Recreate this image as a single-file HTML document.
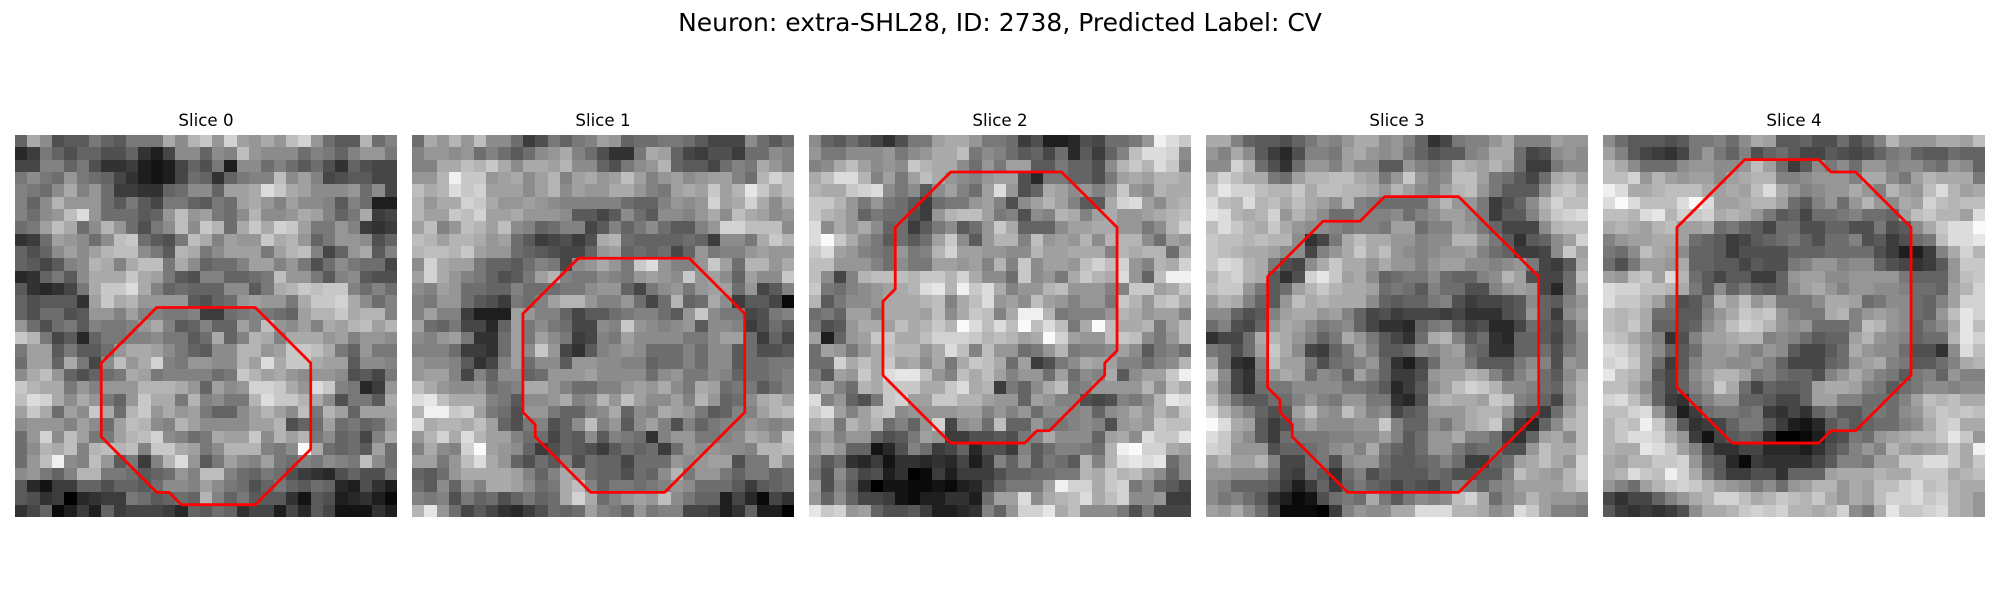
<!DOCTYPE html>
<html lang="en">
<head>
<meta charset="utf-8">
<title>Neuron slices</title>
<style>
html,body{margin:0;padding:0;background:#fff;}
svg{display:block;}
text{font-family:"DejaVu Sans",sans-serif;fill:#000;}
</style>
</head>
<body>
<svg id="figure" xmlns="http://www.w3.org/2000/svg" width="2000" height="600" viewBox="0 0 2000 600">
<rect x="0" y="0" width="2000" height="600" fill="#ffffff"/>
<text x="1000" y="31" font-size="25" text-anchor="middle">Neuron: extra-SHL28, ID: 2738, Predicted Label: CV</text>
<g id="panel-0"><text x="206" y="126" font-size="16.67" text-anchor="middle">Slice 0</text></g>
<g id="panel-1"><text x="603" y="126" font-size="16.67" text-anchor="middle">Slice 1</text></g>
<g id="panel-2"><text x="1000" y="126" font-size="16.67" text-anchor="middle">Slice 2</text></g>
<g id="panel-3"><text x="1397" y="126" font-size="16.67" text-anchor="middle">Slice 3</text></g>
<g id="panel-4"><text x="1794" y="126" font-size="16.67" text-anchor="middle">Slice 4</text></g>
</svg>
<script>
const slice0Values = [
[10,17,14,8,9,9,12,10,9,12,12,12,17,14,18,20,15,21,16,15,17,15,19,21,15,11,9,9,18,11,13],
[4,6,12,10,8,10,10,8,8,10,5,3,7,14,14,10,14,13,19,15,14,14,14,11,13,12,10,13,15,15,12],
[7,7,13,13,10,12,8,5,5,6,3,2,3,7,10,8,12,3,14,14,11,13,11,9,11,8,5,10,8,7,7],
[12,14,12,11,15,12,11,10,7,5,3,2,3,7,11,10,5,10,12,13,13,19,14,16,13,7,8,9,9,7,7],
[13,12,11,14,17,13,15,11,6,6,5,5,10,11,14,14,10,16,16,17,22,20,17,16,14,14,14,15,11,14,7],
[13,10,14,18,15,15,15,11,9,12,9,7,12,12,10,9,12,11,16,17,15,13,16,14,14,13,9,13,11,3,3],
[13,11,14,15,19,22,15,11,11,11,9,10,15,19,15,16,12,11,14,18,14,14,15,17,16,13,10,12,17,6,7],
[11,12,16,19,17,11,14,18,15,11,8,12,14,19,14,20,18,11,17,20,17,21,20,16,12,12,15,13,6,5,6],
[5,6,11,16,15,14,11,14,19,20,11,9,8,12,19,17,13,16,15,15,20,17,18,15,10,12,15,15,14,8,10],
[10,8,10,14,16,14,16,18,19,19,14,12,9,18,17,12,14,16,16,16,12,16,18,19,13,7,10,15,17,9,13],
[10,9,7,9,13,14,18,17,13,17,19,19,12,17,14,10,11,11,13,16,16,13,15,12,8,11,14,12,11,11,7],
[4,5,10,12,9,14,17,17,17,20,17,16,12,9,8,13,13,10,10,11,12,19,15,15,12,9,13,14,9,8,8],
[9,5,4,5,7,12,17,20,20,22,17,13,10,11,10,10,10,14,14,9,12,17,18,20,19,20,20,13,11,13,11],
[10,8,9,9,9,5,16,20,17,18,15,15,15,15,9,8,10,11,15,16,15,15,12,17,20,20,21,17,14,11,13],
[10,8,11,11,8,9,15,15,13,16,13,13,12,12,13,6,6,11,12,13,12,11,10,16,18,18,20,17,18,18,13],
[15,11,8,11,12,9,13,12,12,13,15,17,13,9,10,13,10,10,16,13,19,15,14,16,13,17,16,18,19,16,18],
[20,18,12,7,9,4,10,12,12,13,13,14,12,12,9,11,17,10,13,18,17,13,17,17,17,15,16,13,15,15,14],
[12,16,16,9,12,9,9,11,15,17,17,16,14,12,10,9,14,14,18,18,15,16,20,20,19,17,12,10,15,12,12],
[11,16,16,10,17,12,7,14,19,15,17,21,13,12,15,15,14,14,18,16,22,17,20,20,17,16,16,9,14,14,13],
[14,17,19,15,10,8,10,11,12,17,16,12,13,13,13,13,11,12,20,18,16,17,15,14,15,15,14,8,9,7,12],
[20,18,17,17,12,15,13,15,15,15,18,18,18,17,15,10,16,14,15,21,21,20,17,15,22,20,13,12,4,6,15],
[19,22,21,17,14,17,15,12,10,15,20,17,17,12,18,13,14,12,12,18,22,20,20,18,17,14,8,12,12,9,17],
[16,20,17,11,16,14,20,17,11,18,20,15,17,15,16,12,10,10,14,16,18,16,14,19,12,18,16,10,16,16,16],
[14,15,15,15,13,16,14,11,16,19,18,14,13,18,16,14,14,14,14,16,16,18,8,10,11,16,11,12,10,11,15],
[11,15,21,14,19,16,12,12,16,18,19,21,14,13,11,12,17,16,16,20,14,18,16,18,12,14,10,11,7,13,17],
[11,14,18,17,19,13,18,19,18,19,13,20,20,17,16,12,14,18,18,18,13,12,14,25,17,11,10,11,9,16,11],
[11,15,19,24,14,13,19,15,9,12,6,13,18,22,15,9,12,16,14,13,16,12,11,13,12,14,13,12,19,14,11],
[14,15,12,10,13,18,18,12,12,11,9,10,11,15,13,19,19,13,11,10,12,11,8,6,5,4,8,10,8,8,12],
[9,4,2,6,6,10,10,8,10,10,9,11,14,14,13,16,14,12,11,8,10,12,10,9,11,10,4,3,8,5,3],
[9,8,5,6,0,4,5,6,6,12,11,9,10,11,10,18,13,10,12,9,9,9,5,2,9,8,3,4,5,3,1],
[5,7,10,1,3,6,3,10,6,7,7,7,6,4,10,9,11,10,5,7,7,3,7,4,9,7,2,2,2,5,3]
];
const slice1Values = [
[11,17,15,18,15,19,14,14,11,6,8,12,10,12,13,16,15,10,11,11,12,12,11,9,7,7,7,14,11,9,11],
[13,15,15,14,15,11,13,11,9,11,14,15,17,13,11,8,5,5,12,17,16,10,7,6,8,8,6,11,11,14,13],
[13,13,17,17,19,18,20,17,14,17,17,16,18,14,14,10,8,12,14,15,18,10,9,9,7,11,13,12,17,15,13],
[15,15,18,24,20,20,15,16,17,14,16,18,13,16,17,15,16,19,16,13,15,16,14,15,16,16,13,11,18,21,19],
[19,17,18,22,20,21,16,16,16,14,16,18,14,16,15,15,17,17,15,13,12,16,17,16,20,16,18,23,20,17,19],
[18,15,17,17,21,20,17,15,15,16,15,14,13,13,13,13,13,11,10,10,13,15,14,15,21,16,17,21,17,14,17],
[18,16,16,20,19,21,16,16,17,15,15,15,14,9,9,7,9,14,11,9,14,14,13,15,17,14,19,17,16,14,15],
[16,19,13,15,19,18,16,19,14,13,10,11,13,13,7,9,13,10,12,14,11,9,9,13,15,21,21,19,19,19,14],
[19,18,16,18,18,17,15,16,11,9,6,7,8,6,8,17,18,11,10,10,10,10,11,10,6,14,14,12,17,20,18],
[18,19,19,18,20,16,15,15,11,10,9,8,7,7,10,15,16,10,11,10,11,7,10,15,12,13,13,15,16,15,15],
[14,21,17,16,16,12,10,10,9,11,13,12,7,14,15,17,15,12,20,22,15,13,13,15,20,16,11,18,18,15,17],
[16,21,17,15,13,12,10,8,9,12,16,18,13,12,12,14,13,12,15,16,15,14,20,15,16,14,10,16,14,14,20],
[14,13,16,15,11,11,10,10,13,11,11,11,12,12,14,15,15,10,7,12,14,15,12,15,16,16,11,15,7,9,13],
[13,12,15,15,11,9,8,6,12,11,13,16,18,18,15,13,13,15,11,7,11,18,10,11,17,14,6,9,9,7,1],
[13,16,13,13,6,3,3,3,16,15,13,13,10,7,9,9,11,12,13,13,11,9,15,20,14,12,12,7,8,12,13],
[16,11,10,12,7,7,4,10,16,12,14,12,11,7,7,14,13,20,15,14,13,14,15,9,14,14,13,6,8,11,9],
[14,13,15,16,12,5,5,11,16,12,16,14,12,6,7,13,12,16,14,14,14,14,12,12,14,16,16,11,6,10,7],
[13,13,13,11,6,6,5,11,16,14,20,15,7,5,9,13,14,15,14,11,11,11,13,11,14,14,9,11,8,8,9],
[15,14,14,13,9,5,7,13,16,11,14,14,9,15,15,14,14,13,13,10,11,11,13,11,14,14,9,11,11,12,12],
[15,16,16,13,7,13,10,14,14,10,11,15,15,15,16,14,14,14,14,11,14,15,12,12,14,13,10,11,11,12,13],
[19,17,15,14,14,15,11,12,13,17,17,15,13,11,11,13,13,15,16,15,17,14,12,17,16,11,12,12,9,11,13],
[22,23,19,17,17,17,13,12,9,14,14,15,17,13,14,18,15,19,16,14,14,16,13,18,15,10,11,14,17,18,16],
[18,24,24,20,21,16,12,11,8,15,15,12,10,10,13,14,17,10,14,13,17,16,15,12,9,10,13,13,16,18,19],
[22,17,18,18,17,19,16,10,8,12,13,8,10,14,19,13,15,9,14,16,13,8,13,10,12,13,13,15,14,13,14],
[15,18,21,17,22,18,16,16,13,11,11,7,10,9,14,9,13,12,11,5,13,15,15,12,12,13,14,17,16,14,20],
[13,17,14,13,21,25,16,15,14,10,6,8,10,9,8,6,9,11,10,11,6,11,15,14,15,14,14,13,18,18,19],
[16,16,12,15,19,22,17,15,10,8,11,9,13,8,11,10,10,7,11,11,11,15,14,15,16,16,8,12,12,18,14],
[10,9,11,15,17,17,17,17,16,13,10,13,17,15,11,10,10,8,11,10,14,18,12,15,15,12,10,12,12,10,11],
[11,9,14,10,15,13,17,17,16,14,11,12,17,19,13,10,12,12,11,12,13,15,14,11,11,11,9,6,9,10,11],
[13,12,13,8,12,10,11,8,10,12,10,11,17,21,17,11,13,15,16,15,19,14,12,10,10,3,7,4,1,7,5],
[18,23,15,11,7,9,7,5,4,6,8,11,10,11,16,13,12,10,15,12,13,13,7,7,6,3,5,10,3,3,0]
];
const slice2Values = [
[14,10,9,11,9,7,5,8,12,12,16,17,17,15,12,12,11,6,8,3,3,4,8,7,11,11,12,15,24,22,20],
[15,12,12,14,14,14,15,12,14,15,17,17,19,12,14,13,11,9,10,7,11,4,9,6,10,13,19,22,22,21,14],
[13,14,17,19,16,14,15,14,20,18,17,17,14,11,15,12,16,16,9,9,12,10,10,8,14,18,20,18,22,20,13],
[17,19,22,22,18,13,16,12,16,19,17,15,14,13,15,16,16,8,4,12,12,10,10,8,12,16,17,16,18,18,17],
[18,17,17,20,21,22,14,12,14,9,14,16,13,11,16,22,15,8,10,17,16,14,15,13,15,20,15,14,18,17,17],
[20,20,18,15,12,15,12,11,9,6,11,12,12,15,16,13,8,14,16,18,16,13,9,9,17,21,22,16,14,17,18],
[20,18,17,15,10,12,11,11,8,6,15,18,19,19,16,12,13,8,14,13,18,17,13,16,17,15,15,16,17,18,19],
[22,14,17,15,17,14,10,11,6,9,12,14,9,11,15,20,17,10,10,10,14,16,16,17,17,15,15,12,14,18,21],
[22,25,20,17,14,12,9,11,9,11,16,20,14,9,15,18,18,13,19,15,16,15,18,14,18,18,18,14,11,16,15],
[20,22,16,15,13,12,11,15,12,13,18,21,16,16,15,15,14,14,18,16,16,17,17,17,13,18,17,18,18,11,17],
[19,19,15,15,15,13,11,14,12,12,16,16,15,16,13,18,13,20,14,16,16,15,19,21,19,21,15,13,18,17,21],
[19,14,7,13,18,19,19,19,18,20,20,18,21,17,14,14,11,20,14,15,12,17,20,18,17,22,15,10,19,24,24],
[20,12,11,13,14,15,16,17,18,22,23,18,24,20,22,17,13,15,15,18,19,15,15,15,13,13,20,20,16,17,20],
[18,9,12,14,14,15,17,17,17,18,19,13,17,19,22,15,16,14,19,16,15,13,15,15,12,20,18,15,19,20,17],
[11,12,10,16,16,13,17,17,17,16,19,14,17,20,19,13,17,24,24,18,12,13,13,13,15,18,17,15,16,16,13],
[12,8,9,15,17,17,16,19,17,18,20,18,25,22,19,22,19,25,19,22,19,12,17,25,19,17,17,18,12,16,19],
[16,3,10,15,16,20,20,17,17,19,21,21,21,20,18,19,18,16,17,25,21,16,15,15,19,20,19,14,12,15,19],
[11,16,15,12,15,17,19,18,18,15,17,22,19,13,19,15,15,11,12,15,18,12,13,13,14,16,14,9,12,13,11],
[11,11,21,17,19,17,20,16,17,14,17,12,17,20,19,17,11,16,6,8,12,14,17,16,16,13,13,11,13,14,18],
[13,9,16,15,20,17,22,23,23,19,15,13,19,17,19,16,13,15,15,11,16,11,14,13,17,9,14,16,16,20,24],
[15,17,13,11,18,17,20,20,20,17,17,20,22,17,18,6,12,10,14,17,19,12,13,15,15,15,15,18,14,19,17],
[22,13,15,10,8,12,20,21,16,16,20,20,18,18,16,15,15,10,16,15,13,13,8,7,8,13,12,14,18,23,22],
[20,22,16,13,16,19,20,14,15,15,15,15,16,16,13,15,13,15,11,14,14,13,14,10,14,15,17,15,18,16,20],
[17,18,12,18,16,18,11,13,10,15,21,7,14,15,11,19,10,10,15,12,12,13,14,13,8,15,16,15,20,19,19],
[14,16,13,15,15,10,8,9,12,16,15,6,6,8,8,9,8,12,13,17,14,14,14,10,16,17,14,22,20,20,23],
[15,17,15,10,10,2,4,8,13,11,6,7,10,4,8,8,6,13,9,11,13,13,12,11,18,24,25,21,21,17,16],
[13,9,11,5,4,6,2,5,5,4,5,4,7,3,6,13,10,14,9,12,11,9,18,13,18,22,23,22,23,11,14],
[12,8,14,10,7,8,3,5,0,1,6,3,6,6,6,8,10,10,11,11,12,12,18,17,20,18,19,16,14,10,14],
[16,8,13,9,4,0,2,2,1,1,2,1,3,4,7,10,12,12,12,16,24,21,21,17,20,21,12,14,10,9,7],
[15,10,14,10,7,7,6,2,1,3,3,5,5,3,11,16,16,22,14,17,18,19,22,17,19,21,14,14,15,6,6],
[23,20,21,15,16,10,8,8,9,6,3,3,4,5,13,10,15,21,21,23,17,19,14,14,14,12,8,12,7,7,7]
];
const slice3Values = [
[17,17,13,10,9,9,8,10,12,14,13,15,17,17,14,15,13,10,5,7,12,13,13,15,17,13,13,13,16,15,15],
[15,13,17,14,9,6,4,8,13,13,12,16,17,15,14,15,12,10,8,9,9,13,14,17,17,11,7,8,14,15,14],
[14,14,21,18,11,8,5,11,15,15,13,16,14,14,9,9,15,13,12,13,18,17,16,18,16,11,6,6,12,14,14],
[18,21,19,17,17,12,11,16,18,18,19,19,17,16,12,15,20,15,13,14,19,19,16,12,11,9,7,11,17,18,16],
[20,23,21,21,19,18,18,20,17,19,19,18,18,17,15,18,16,14,13,16,18,19,15,12,9,9,9,14,19,20,18],
[22,19,18,22,18,19,17,19,17,16,14,18,13,12,11,11,11,11,15,18,15,15,12,6,8,10,14,18,21,19,19],
[23,22,18,17,18,21,15,18,16,14,11,11,13,13,13,14,11,13,14,16,16,14,12,6,9,9,13,17,20,21,22],
[19,22,20,18,17,20,17,15,14,14,13,12,13,13,12,16,16,11,13,13,16,15,12,10,7,7,7,14,18,19,19],
[20,19,19,18,19,18,18,14,5,7,12,17,19,17,17,15,15,13,14,14,18,18,15,12,9,5,9,10,14,16,21],
[20,19,18,17,17,16,14,14,7,13,15,17,20,17,19,15,14,13,14,15,15,16,13,11,10,6,6,7,14,20,16],
[20,22,21,18,17,12,8,7,14,17,20,17,17,15,17,15,15,13,15,16,16,14,14,13,14,15,12,7,6,9,17],
[18,20,21,18,17,9,5,8,21,23,20,16,17,14,10,11,12,12,14,11,10,10,13,14,18,16,8,7,7,11,19],
[19,20,20,15,12,9,11,16,18,20,18,17,17,16,11,12,11,9,13,11,11,8,8,13,15,16,15,7,4,11,17],
[16,18,17,13,10,9,15,19,17,18,17,17,17,14,10,9,10,10,12,13,8,6,7,7,8,9,14,10,9,13,15],
[14,14,10,8,9,13,16,17,17,15,16,13,10,7,8,6,7,7,7,6,7,5,5,5,8,9,15,10,6,14,16],
[11,13,8,7,10,15,17,16,14,12,13,14,10,7,5,5,4,10,12,13,9,7,8,4,4,7,11,9,8,11,15],
[5,7,7,11,17,18,17,15,13,10,12,17,15,12,9,7,5,11,17,18,13,9,11,5,4,10,10,9,7,11,14],
[12,11,8,11,16,20,17,14,7,6,10,12,16,13,9,9,10,14,13,15,16,11,10,5,5,10,10,11,8,12,14],
[16,11,5,4,13,19,16,16,12,8,11,12,13,15,10,5,3,7,11,15,15,12,9,9,9,12,14,13,8,15,14],
[20,14,7,5,12,15,17,16,11,14,13,10,16,13,10,6,6,8,15,16,16,18,17,13,10,13,15,11,9,14,17],
[17,13,7,5,11,12,12,14,14,14,14,12,12,11,9,4,6,9,14,16,19,21,20,18,14,14,13,11,10,15,18],
[19,15,11,9,9,11,11,13,15,13,12,15,15,12,12,5,4,8,17,18,17,17,16,20,19,13,12,10,7,14,18],
[22,18,15,13,10,8,9,16,19,15,14,19,16,13,14,7,9,10,15,15,15,17,18,18,15,10,8,6,11,16,19],
[25,22,17,16,9,6,8,14,16,14,14,14,15,15,20,13,10,10,14,12,15,17,18,20,12,6,4,10,14,18,19],
[22,20,16,14,9,6,11,12,12,12,13,13,14,14,16,13,9,11,15,15,17,13,13,11,6,5,10,16,17,14,19],
[21,20,15,15,15,8,10,10,11,12,14,15,13,17,12,10,9,11,15,15,12,10,11,11,8,8,15,19,17,17,19],
[16,18,16,16,18,13,7,7,11,12,8,14,15,15,11,9,9,10,11,13,11,6,6,10,11,16,17,19,17,15,21],
[15,15,14,14,14,11,7,6,11,9,5,11,13,8,10,9,9,9,11,10,8,8,9,9,13,19,17,16,15,18,21],
[14,13,10,10,10,9,6,3,6,10,6,10,12,10,9,7,9,8,7,10,13,12,10,13,14,16,16,16,16,18,20],
[14,12,13,11,9,5,3,1,2,8,11,12,11,17,12,9,12,14,13,14,19,21,17,11,14,15,18,16,15,15,14],
[16,15,17,14,11,7,1,1,1,0,6,13,15,14,14,17,17,22,22,22,18,18,17,14,15,22,20,16,13,13,12]
];
const slice4Values = [
[14,11,9,9,9,8,9,12,12,13,11,14,17,16,9,9,10,8,8,11,8,10,13,18,15,15,15,17,17,16,19],
[16,13,9,7,6,5,7,12,15,12,10,13,8,10,11,9,7,7,9,8,7,8,10,12,13,10,9,9,11,10,10],
[19,17,14,11,11,11,14,15,15,14,14,15,19,16,11,6,9,14,12,14,11,15,15,13,14,14,12,11,15,14,10],
[19,19,21,15,18,16,15,16,16,14,16,17,18,18,13,13,14,15,15,15,13,17,17,14,12,16,18,17,17,17,12],
[24,22,17,17,18,19,19,19,17,16,17,16,19,22,17,15,13,14,15,15,17,15,13,18,16,15,19,22,18,16,17],
[22,25,22,19,19,19,22,25,22,16,16,17,18,18,16,11,9,13,15,11,15,18,15,14,17,16,21,19,18,19,19],
[19,19,18,22,23,18,21,20,21,17,18,17,15,12,9,10,7,11,11,12,13,11,11,10,16,19,20,18,18,16,22],
[17,18,17,16,18,19,16,16,17,11,12,10,9,7,11,11,8,8,10,10,8,8,12,8,9,14,17,20,22,22,25],
[13,15,16,16,17,17,16,11,10,9,6,7,9,10,11,12,10,8,11,11,13,8,9,6,8,11,12,19,22,22,23],
[12,11,14,19,17,16,14,10,10,9,6,8,8,8,8,10,10,10,11,11,11,11,8,6,3,3,6,13,17,21,18],
[11,8,12,16,16,15,17,10,10,9,9,7,9,8,8,12,13,15,15,13,14,14,10,8,7,5,6,9,15,20,20],
[16,15,19,20,16,22,18,11,9,7,9,9,6,6,10,15,16,16,14,14,15,15,15,15,12,10,10,10,15,19,20],
[22,21,21,19,19,18,17,12,9,14,10,12,10,9,10,14,16,17,15,13,15,15,14,14,13,11,11,10,16,18,21],
[22,20,20,18,16,12,8,9,12,18,16,19,15,17,12,12,12,14,17,17,16,11,12,14,14,11,10,13,16,21,21],
[19,18,19,17,11,11,9,9,13,15,17,20,19,20,15,13,12,12,17,18,13,15,16,15,14,11,10,15,19,23,21],
[19,18,20,17,10,10,9,10,14,16,19,21,20,18,15,14,15,11,11,11,13,19,18,15,14,10,12,14,17,23,19],
[20,19,17,15,13,5,8,13,16,16,17,18,18,13,14,13,11,9,10,10,16,18,15,14,13,10,11,11,18,23,21],
[22,21,19,16,14,10,9,11,15,15,16,14,13,15,14,9,7,7,9,11,17,15,14,14,11,8,8,5,14,22,19],
[21,22,20,16,11,6,9,13,15,15,14,14,15,13,10,7,7,7,10,11,15,16,17,13,12,9,9,11,13,17,18],
[23,19,18,16,9,7,10,14,16,18,18,16,12,13,11,10,10,8,13,15,17,15,13,12,9,12,13,10,15,13,13],
[19,19,17,14,10,7,10,13,15,20,17,11,7,10,9,9,10,16,17,17,16,13,12,9,11,12,14,14,13,14,14],
[21,22,19,16,10,6,5,11,13,15,15,10,10,9,7,7,10,16,16,13,13,11,11,11,13,16,19,18,19,17,17],
[19,19,21,22,15,9,3,6,11,12,12,11,12,6,5,7,5,10,12,9,9,11,12,11,14,15,18,20,19,20,19],
[18,20,19,24,20,15,9,5,6,7,10,12,12,9,6,3,2,4,9,11,9,10,11,11,13,14,17,20,21,17,17],
[18,20,22,22,21,17,15,6,2,7,9,10,9,4,0,0,1,3,7,8,12,11,15,16,17,18,18,20,23,20,15],
[18,17,17,23,22,20,16,13,8,5,5,7,7,4,4,4,3,5,8,10,13,15,13,18,16,15,16,17,20,17,24],
[17,16,18,18,20,20,21,15,10,9,4,1,6,5,5,5,5,7,9,13,13,12,16,16,20,20,22,22,20,17,20],
[17,18,22,20,19,24,21,17,12,9,6,6,8,8,5,10,10,10,16,17,17,17,18,17,17,20,20,20,17,18,19],
[15,13,11,16,18,20,21,20,18,16,15,14,12,14,11,15,16,18,18,15,17,16,19,19,21,22,19,20,18,17,17],
[7,5,7,7,10,13,15,17,18,21,21,19,17,18,20,19,18,20,17,15,17,16,19,21,21,22,20,21,18,17,15],
[9,6,5,6,5,6,8,14,17,17,18,20,21,20,21,18,18,17,18,21,14,12,17,23,20,20,21,22,18,17,15]
];
const contour0Cols = [11,19,23.5,23.5,19,13,12,11,6.5,6.5];
const contour0Rows = [13.5,13.5,18,25,29.5,29.5,28.5,28.5,24,18];
const contour1Cols = [13,22,26.5,26.5,20,14,9.5,9.5,8.5,8.5];
const contour1Rows = [9.5,9.5,14,22,28.5,28.5,24,23,22,14];
const contour2Cols = [11,20,24.5,24.5,23.5,23.5,19,18,17,11,5.5,5.5,6.5,6.5];
const contour2Rows = [2.5,2.5,7,17,18,19,23.5,23.5,24.5,24.5,19,13,12,7];
const contour3Cols = [14,20,26.5,26.5,20,11,6.5,6.5,5.5,5.5,4.5,4.5,9,12];
const contour3Rows = [4.5,4.5,11,22,28.5,28.5,24,23,22,21,20,11,6.5,6.5];
const contour4Cols = [11,17,18,20,24.5,24.5,20,18,17,10,5.5,5.5];
const contour4Rows = [1.5,1.5,2.5,2.5,7,19,23.5,23.5,24.5,24.5,20,7];

const sliceImages = [slice0Values, slice1Values, slice2Values, slice3Values, slice4Values];
const contourCols = [contour0Cols, contour1Cols, contour2Cols, contour3Cols, contour4Cols];
const contourRows = [contour0Rows, contour1Rows, contour2Rows, contour3Rows, contour4Rows];

const SVG_NS = 'http://www.w3.org/2000/svg';
const GRID_SIZE = 31;
const PANEL_SIZE = 382;
const PANEL_TOP = 135;
const PANEL_LEFT = 15;
const PANEL_PITCH = 397;

function xAxis(panel, col) {
  return PANEL_LEFT + panel * PANEL_PITCH + (col + 0.5) * PANEL_SIZE / GRID_SIZE;
}
function yAxis(row) {
  return PANEL_TOP + (row + 0.5) * PANEL_SIZE / GRID_SIZE;
}
function grayScale(value) {
  const level = Math.max(0, Math.min(255, Math.round(value * 10)));
  return 'rgb(' + level + ',' + level + ',' + level + ')';
}

sliceImages.forEach(function (values, panel) {
  const group = document.getElementById('panel-' + panel);
  const image = document.createElementNS(SVG_NS, 'g');
  
  
  image.setAttribute('shape-rendering', 'crispEdges');
  values.forEach(function (rowValues, row) {
    rowValues.forEach(function (value, col) {
      const left = Math.round(xAxis(panel, col - 0.5));
      const right = Math.round(xAxis(panel, col + 0.5));
      const top = Math.round(yAxis(row - 0.5));
      const bottom = Math.round(yAxis(row + 0.5));
      const cell = document.createElementNS(SVG_NS, 'rect');
      
      
      cell.setAttribute('x', left);
      cell.setAttribute('y', top);
      cell.setAttribute('width', right - left);
      cell.setAttribute('height', bottom - top);
      cell.setAttribute('fill', grayScale(value));
      image.appendChild(cell);
    });
  });
  group.appendChild(image);

  const cols = contourCols[panel];
  const rows = contourRows[panel];
  const points = cols.map(function (col, i) {
    return xAxis(panel, col).toFixed(2) + ',' + yAxis(rows[i]).toFixed(2);
  }).join(' ');
  const contour = document.createElementNS(SVG_NS, 'polygon');
  
  
  contour.setAttribute('points', points);
  contour.setAttribute('fill', 'none');
  contour.setAttribute('stroke', '#ff0000');
  contour.setAttribute('stroke-width', '2.78');
  contour.setAttribute('stroke-linejoin', 'round');
  group.appendChild(contour);
});
</script>
</body>
</html>
